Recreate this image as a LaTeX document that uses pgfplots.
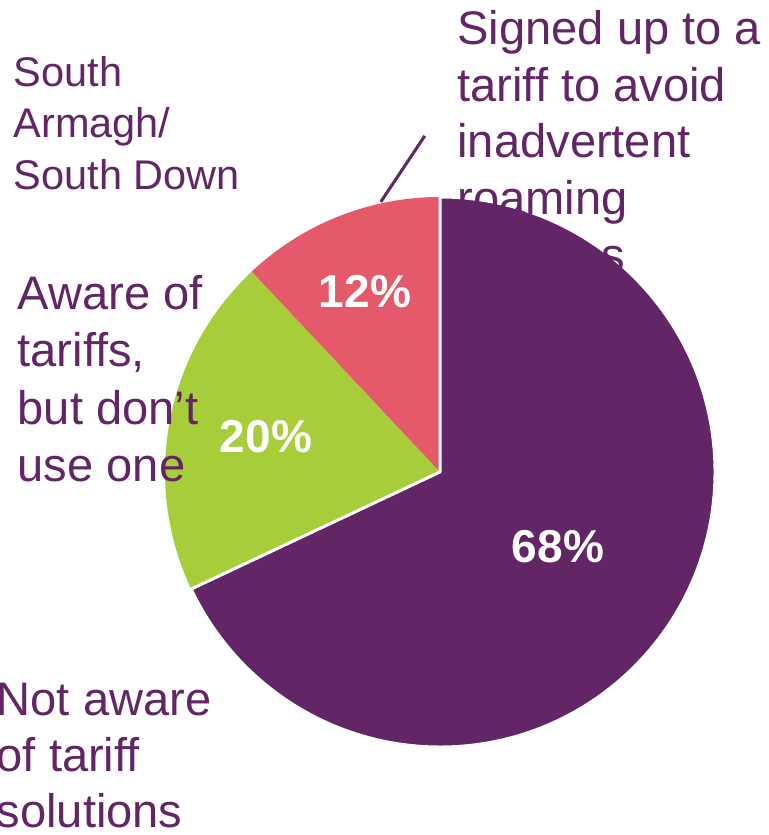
\documentclass[border=0pt]{standalone}
\usepackage{fontspec}
\setmainfont{Liberation Sans}
\usepackage{pgfplots}
\pgfplotsset{compat=1.18}
\definecolor{piepurple}{RGB}{98,37,102}
\definecolor{piegreen}{RGB}{168,205,58}
\definecolor{piered}{RGB}{229,90,106}

% label positions (axis units, pie radius = 1) and shares in percent
\pgfplotstableread{
x      y      v
0.429  -0.273 68
-0.633 0.127  20
-0.273 0.655  12
}\sharetable

\begin{document}
\begin{tikzpicture}
\path[use as bounding box, clip] (0,0) rectangle (7.69cm,-8.35cm);
\begin{axis}[
  hide axis, clip=false,
  x=2.75cm, y=2.75cm,
  xmin=-1, xmax=1, ymin=-1, ymax=1,
  anchor=origin, at={(4.40cm,-4.72cm)},
]
% slices run clockwise from twelve o'clock: 68, 20, 12 percent
\fill[piegreen] (axis cs:0,0) -- (axis cs:{cos(90-3.6*68)},{sin(90-3.6*68)})
  arc[start angle={90-3.6*68}, end angle={90-3.6*(68+20)}, radius=2.75cm] -- cycle;
\fill[piered] (axis cs:0,0) -- (axis cs:{cos(90-3.6*88)},{sin(90-3.6*88)})
  arc[start angle={90-3.6*88}, end angle={90-3.6*(88+12)}, radius=2.75cm] -- cycle;
\filldraw[fill=piepurple, draw=white, line width=0.85pt, line join=round]
  (axis cs:0,0) -- (axis cs:0,1)
  arc[start angle=90, end angle={90-3.6*68}, radius=2.75cm] -- cycle;
\addplot[draw=none, mark=none, point meta=explicit symbolic,
  nodes near coords={\pgfplotspointmeta\%},
  nodes near coords align=center,
  every node near coord/.append style={text=white, inner sep=0pt,
    font=\fontsize{13.1pt}{15pt}\selectfont\bfseries}]
  table[x=x, y=y, meta=v] {\sharetable};
\end{axis}
\begin{scope}[x=0.01cm, y=-0.01cm,
  every node/.style={inner sep=0pt, anchor=base west, text=piepurple}]
\begin{scope}[every node/.append style={font=\fontsize{13.4pt}{16pt}\selectfont}]
\node at (457,45)  {Signed up to a};
\node at (457,102) {tariff to avoid};
\node at (457,158) {inadvertent};
\node at (457,215) {roaming};
\node at (457,272) {charges};
\node at (17,310) {Aware of};
\node at (17,367) {tariffs,};
\node at (17,425) {but don’t};
\node at (17,482) {use one};
\node at (-4,716) {Not aware};
\node at (-4,772) {of tariff};
\node at (-4,828) {solutions};
\end{scope}
\begin{scope}[every node/.append style={font=\fontsize{11.8pt}{14pt}\selectfont}]
\node at (13,87)  {South};
\node at (13,138) {Armagh/};
\node at (13,190) {South Down};
\end{scope}
\draw[piepurple, line width=0.85pt] (381,202) -- (425,136);
\end{scope}
\end{tikzpicture}
\end{document}
